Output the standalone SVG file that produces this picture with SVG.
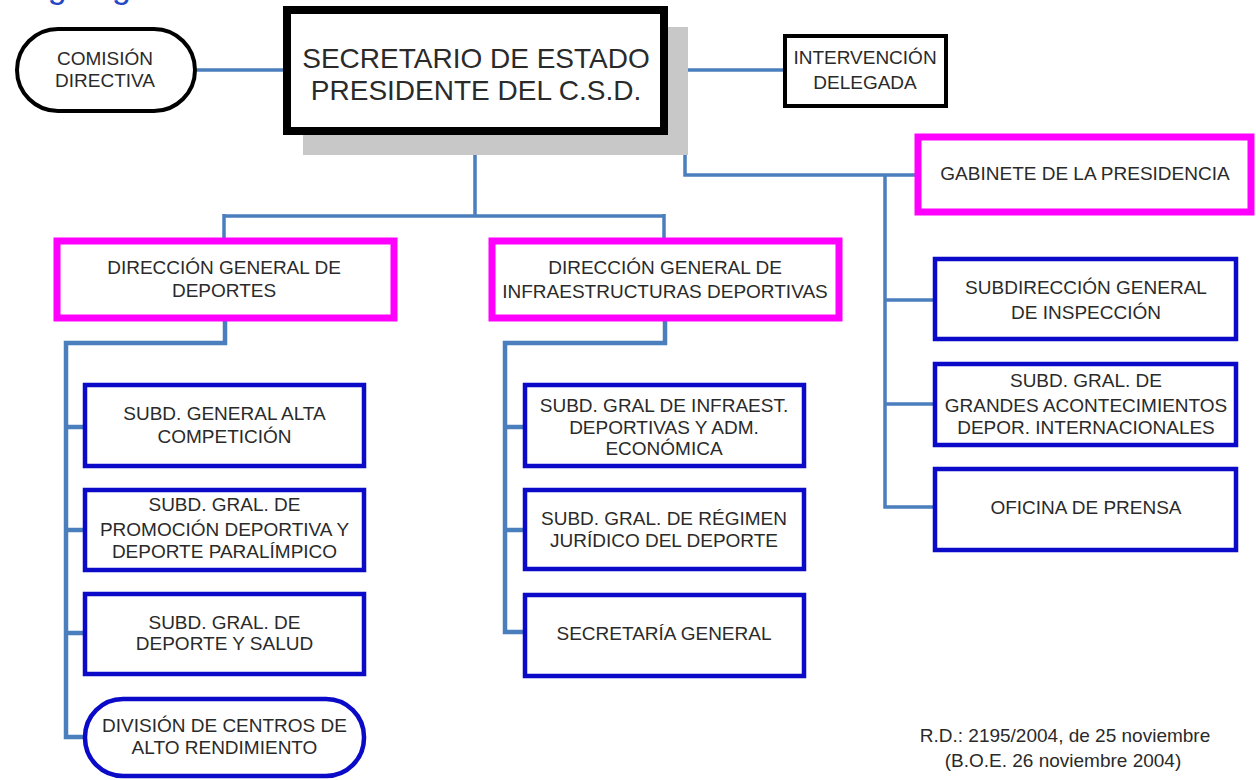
<svg xmlns="http://www.w3.org/2000/svg" width="1256" height="780" viewBox="0 0 1256 780">
<style>
text{font-family:"Liberation Sans",Arial,sans-serif;font-size:19px;fill:#2a2a2a;text-anchor:middle}
.big{font-size:28px}
.title{font-size:34px;fill:#2448c8;text-anchor:start}
.blue{fill:#fff;stroke:#0a0ac8;stroke-width:4.5}
.mag{fill:#fff;stroke:#ff00ff;stroke-width:7}
.blk{fill:#fff;stroke:#000;stroke-width:4}
.con{fill:none;stroke:#4a7ebd;stroke-width:4.5;stroke-linejoin:miter}
.thin{stroke-width:3.5}
</style>
<rect width="1256" height="780" fill="#fff"/>
<text class="title" x="10" y="-2">Organigrama</text>
<g id="connectors">
<path class="con thin" d="M197,70 H287"/>
<path class="con thin" d="M664,70 H785"/>
<path class="con thin" d="M685,70 V175 H917"/>
<path class="con thin" d="M885,175 V507 H935 M885,300 H935 M885,404 H935"/>
<path class="con thin" d="M475,135 V216 M224,216 H664 M224,214 V238 M664,214 V238"/>
<path class="con" d="M225,320 V343 H66 V737 H84 M66,427 H84 M66,530 H84 M66,633 H84"/>
<path class="con" d="M665,320 V343 H505 V632 H523 M505,427 H523 M505,530 H523"/>
</g>
<g id="comision">
<rect class="blk" x="17" y="29" width="178" height="82" rx="41"/>
<text x="105" y="64.5">COMISIÓN</text>
<text x="105" y="87">DIRECTIVA</text>
</g>
<g id="secretario">
<rect x="303" y="27" width="385" height="128" fill="#c8c8c8"/>
<rect x="287" y="10" width="377" height="121" fill="#fff" stroke="#000" stroke-width="8"/>
<text class="big" x="476" y="68">SECRETARIO DE ESTADO</text>
<text class="big" x="476" y="100">PRESIDENTE DEL C.S.D.</text>
</g>
<g id="intervencion">
<rect class="blk" x="785" y="36" width="161" height="70"/>
<text x="865" y="63.5">INTERVENCIÓN</text>
<text x="865" y="88.5">DELEGADA</text>
</g>
<g id="gabinete">
<rect class="mag" x="918" y="137" width="333" height="75"/>
<text x="1085" y="179.5">GABINETE DE LA PRESIDENCIA</text>
</g>
<g id="dg-deportes">
<rect class="mag" x="57" y="241" width="337" height="77"/>
<text x="224" y="273.5">DIRECCIÓN GENERAL DE</text>
<text x="224" y="296.5">DEPORTES</text>
</g>
<g id="dg-infra">
<rect class="mag" x="492" y="241" width="347" height="77"/>
<text x="665" y="273.5">DIRECCIÓN GENERAL DE</text>
<text x="665" y="298">INFRAESTRUCTURAS DEPORTIVAS</text>
</g>
<g id="alta-competicion">
<rect class="blue" x="85" y="385" width="279" height="81"/>
<text x="224.5" y="419.5">SUBD. GENERAL ALTA</text>
<text x="224.5" y="442.5">COMPETICIÓN</text>
</g>
<g id="promocion">
<rect class="blue" x="85" y="490" width="279" height="80"/>
<text x="224.5" y="511">SUBD. GRAL. DE</text>
<text x="224.5" y="536">PROMOCIÓN DEPORTIVA Y</text>
<text x="224.5" y="558">DEPORTE PARALÍMPICO</text>
</g>
<g id="salud">
<rect class="blue" x="85" y="594" width="279" height="80"/>
<text x="224.5" y="628.5">SUBD. GRAL. DE</text>
<text x="224.5" y="649.5">DEPORTE Y SALUD</text>
</g>
<g id="division">
<rect class="blue" x="85" y="699" width="279" height="77" rx="38"/>
<text x="224.5" y="731.5">DIVISIÓN DE CENTROS DE</text>
<text x="224.5" y="753.5">ALTO RENDIMIENTO</text>
</g>
<g id="infraest">
<rect class="blue" x="525" y="385" width="279" height="81"/>
<text x="664" y="411.5">SUBD. GRAL DE INFRAEST.</text>
<text x="664" y="433.5">DEPORTIVAS Y ADM.</text>
<text x="664" y="454.5">ECONÓMICA</text>
</g>
<g id="regimen">
<rect class="blue" x="525" y="490" width="279" height="79"/>
<text x="664" y="524.5">SUBD. GRAL. DE RÉGIMEN</text>
<text x="664" y="546.5">JURÍDICO DEL DEPORTE</text>
</g>
<g id="secretaria">
<rect class="blue" x="525" y="595" width="279" height="81"/>
<text x="664" y="639.5">SECRETARÍA GENERAL</text>
</g>
<g id="inspeccion">
<rect class="blue" x="935" y="259" width="301" height="80"/>
<text x="1086" y="293.5">SUBDIRECCIÓN GENERAL</text>
<text x="1086" y="318.5">DE INSPECCIÓN</text>
</g>
<g id="grandes">
<rect class="blue" x="935" y="364" width="301" height="81"/>
<text x="1086" y="386.5">SUBD. GRAL. DE</text>
<text x="1086" y="411.5">GRANDES  ACONTECIMIENTOS</text>
<text x="1086" y="433.5">DEPOR. INTERNACIONALES</text>
</g>
<g id="prensa">
<rect class="blue" x="935" y="469" width="301" height="81"/>
<text x="1086" y="513.5">OFICINA DE PRENSA</text>
</g>
<g id="nota">
<text x="1065" y="741.5">R.D.: 2195/2004, de 25 noviembre</text>
<text x="1063" y="766.5">(B.O.E. 26 noviembre 2004)</text>
</g>
</svg>
